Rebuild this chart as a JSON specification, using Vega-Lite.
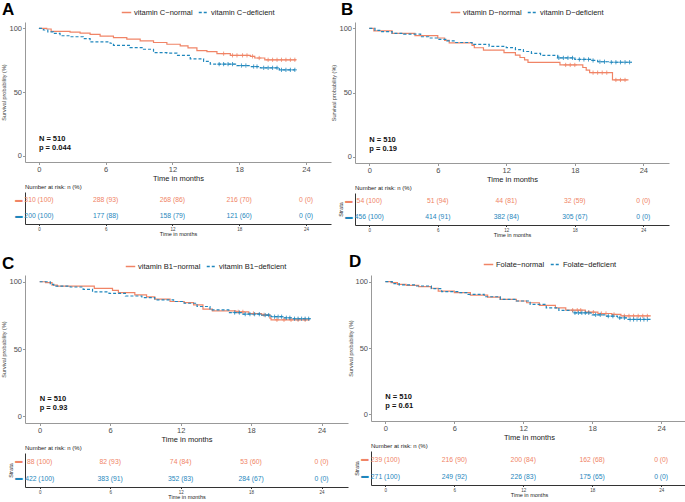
{
  "$schema": "https://vega.github.io/schema/vega-lite/v6.json",
  "padding": {"left": 1, "top": 1, "right": 1, "bottom": 1},
  "config": {
    "font": "Liberation Sans",
    "view": {"stroke": null},
    "axis": {"grid": false},
    "title": {"color": "#000000"}
  },
  "datasets": {
    "A_km": [
      {"g":"normal","t":0,"s":100},{"g":"normal","t":0.7,"s":99.5},{"g":"normal","t":1.1,"s":97.6},{"g":"normal","t":2.8,"s":97.1},{"g":"normal","t":3.7,"s":96.3},{"g":"normal","t":4.6,"s":95.2},{"g":"normal","t":5.5,"s":93.9},{"g":"normal","t":6.7,"s":92.8},{"g":"normal","t":7.9,"s":91.5},{"g":"normal","t":9.1,"s":90.2},{"g":"normal","t":10.3,"s":88.9},{"g":"normal","t":11.5,"s":87.5},{"g":"normal","t":12.7,"s":86.2},{"g":"normal","t":13.4,"s":84.6},{"g":"normal","t":14.2,"s":82.5},{"g":"normal","t":15.1,"s":81.7},{"g":"normal","t":16,"s":80.1},{"g":"normal","t":17.2,"s":78.8},{"g":"normal","t":19,"s":78},{"g":"normal","t":19.4,"s":76.7},{"g":"normal","t":20.3,"s":75.3},{"g":"normal","t":23.1,"s":75.3},
      {"g":"deficient","t":0,"s":100},{"g":"deficient","t":0.4,"s":98.7},{"g":"deficient","t":0.8,"s":97.3},{"g":"deficient","t":1.3,"s":96},{"g":"deficient","t":1.9,"s":94.2},{"g":"deficient","t":2.8,"s":93.4},{"g":"deficient","t":4,"s":92},{"g":"deficient","t":4.6,"s":89.4},{"g":"deficient","t":6.4,"s":88.3},{"g":"deficient","t":6.7,"s":86.7},{"g":"deficient","t":8.2,"s":84.9},{"g":"deficient","t":9.4,"s":83.6},{"g":"deficient","t":10.3,"s":80.9},{"g":"deficient","t":11.5,"s":80.6},{"g":"deficient","t":12.4,"s":78.8},{"g":"deficient","t":13.6,"s":76.1},{"g":"deficient","t":14.8,"s":74},{"g":"deficient","t":15.4,"s":71.9},{"g":"deficient","t":17.8,"s":70.8},{"g":"deficient","t":19,"s":70},{"g":"deficient","t":19.9,"s":69},{"g":"deficient","t":21.6,"s":67.4},{"g":"deficient","t":23,"s":67.4}
    ],
    "A_cens": [
      {"g":"normal","t":16.6,"s":80.1},{"g":"normal","t":17.4,"s":78.8},{"g":"normal","t":17.8,"s":78.8},{"g":"normal","t":18.3,"s":78.8},{"g":"normal","t":18.7,"s":78.8},{"g":"normal","t":19.2,"s":78},{"g":"normal","t":19.8,"s":76.7},{"g":"normal","t":20.6,"s":75.3},{"g":"normal","t":21.0,"s":75.3},{"g":"normal","t":21.4,"s":75.3},{"g":"normal","t":21.8,"s":75.3},{"g":"normal","t":22.2,"s":75.3},{"g":"normal","t":22.6,"s":75.3},{"g":"normal","t":23.0,"s":75.3},
      {"g":"deficient","t":16.2,"s":71.9},{"g":"deficient","t":16.6,"s":71.9},{"g":"deficient","t":17.0,"s":71.9},{"g":"deficient","t":17.4,"s":71.9},{"g":"deficient","t":18.2,"s":70.8},{"g":"deficient","t":18.6,"s":70.8},{"g":"deficient","t":19.3,"s":70},{"g":"deficient","t":19.6,"s":70},{"g":"deficient","t":20.2,"s":69},{"g":"deficient","t":20.6,"s":69},{"g":"deficient","t":21.0,"s":69},{"g":"deficient","t":21.4,"s":69},{"g":"deficient","t":21.8,"s":67.4},{"g":"deficient","t":22.2,"s":67.4},{"g":"deficient","t":22.6,"s":67.4},{"g":"deficient","t":23.0,"s":67.4}
    ],
    "A_ann": [{"t":0,"s":13,"label":"N = 510"},{"t":0,"s":6,"label":"p = 0.044"}],
    "A_risk": [
      {"g":"normal","t":0,"label":"310 (100)"},{"g":"normal","t":6,"label":"288 (93)"},{"g":"normal","t":12,"label":"268 (86)"},{"g":"normal","t":18,"label":"216 (70)"},{"g":"normal","t":24,"label":"0 (0)"},
      {"g":"deficient","t":0,"label":"200 (100)"},{"g":"deficient","t":6,"label":"177 (88)"},{"g":"deficient","t":12,"label":"158 (79)"},{"g":"deficient","t":18,"label":"121 (60)"},{"g":"deficient","t":24,"label":"0 (0)"}
    ],
    "B_km": [
      {"g":"normal","t":0,"s":100},{"g":"normal","t":0.4,"s":98.1},{"g":"normal","t":2.0,"s":96.2},{"g":"normal","t":4.0,"s":94.3},{"g":"normal","t":6.0,"s":92.5},{"g":"normal","t":6.6,"s":90.6},{"g":"normal","t":7.0,"s":88.7},{"g":"normal","t":9.0,"s":86.8},{"g":"normal","t":9.2,"s":84.9},{"g":"normal","t":10.0,"s":83},{"g":"normal","t":11.8,"s":81.1},{"g":"normal","t":12.8,"s":79.2},{"g":"normal","t":13.2,"s":77.3},{"g":"normal","t":13.6,"s":75.4},{"g":"normal","t":13.9,"s":73.5},{"g":"normal","t":16.7,"s":71.5},{"g":"normal","t":18.7,"s":69.5},{"g":"normal","t":19.0,"s":67.5},{"g":"normal","t":19.3,"s":65.5},{"g":"normal","t":21.3,"s":59.8},{"g":"normal","t":22.7,"s":59.8},
      {"g":"deficient","t":0,"s":100},{"g":"deficient","t":0.5,"s":98.5},{"g":"deficient","t":1,"s":97.5},{"g":"deficient","t":2,"s":96.2},{"g":"deficient","t":3,"s":95.5},{"g":"deficient","t":4.5,"s":93.5},{"g":"deficient","t":5.2,"s":92.5},{"g":"deficient","t":6,"s":91.5},{"g":"deficient","t":6.8,"s":90.2},{"g":"deficient","t":7.5,"s":89},{"g":"deficient","t":9,"s":87.5},{"g":"deficient","t":10.5,"s":86},{"g":"deficient","t":12,"s":85},{"g":"deficient","t":12.8,"s":83.5},{"g":"deficient","t":13.5,"s":82},{"g":"deficient","t":14.2,"s":80.5},{"g":"deficient","t":15,"s":79},{"g":"deficient","t":16.5,"s":77},{"g":"deficient","t":18,"s":75.8},{"g":"deficient","t":19.5,"s":75},{"g":"deficient","t":20,"s":74},{"g":"deficient","t":21,"s":73.6},{"g":"deficient","t":23,"s":73.6}
    ],
    "B_cens": [
      {"g":"normal","t":17.2,"s":71.5},{"g":"normal","t":17.6,"s":71.5},{"g":"normal","t":18.0,"s":71.5},{"g":"normal","t":19.6,"s":65.5},{"g":"normal","t":20.0,"s":65.5},{"g":"normal","t":20.4,"s":65.5},{"g":"normal","t":20.8,"s":65.5},{"g":"normal","t":21.6,"s":59.8},{"g":"normal","t":22.0,"s":59.8},{"g":"normal","t":22.4,"s":59.8},
      {"g":"deficient","t":16.6,"s":77},{"g":"deficient","t":17.0,"s":77},{"g":"deficient","t":17.4,"s":77},{"g":"deficient","t":17.8,"s":77},{"g":"deficient","t":18.4,"s":75.8},{"g":"deficient","t":18.8,"s":75.8},{"g":"deficient","t":19.2,"s":75.8},{"g":"deficient","t":19.6,"s":75},{"g":"deficient","t":20.2,"s":74},{"g":"deficient","t":20.6,"s":74},{"g":"deficient","t":21.2,"s":73.6},{"g":"deficient","t":21.6,"s":73.6},{"g":"deficient","t":22.0,"s":73.6},{"g":"deficient","t":22.4,"s":73.6},{"g":"deficient","t":22.8,"s":73.6}
    ],
    "B_ann": [{"t":0,"s":13,"label":"N = 510"},{"t":0,"s":6,"label":"p = 0.19"}],
    "B_risk": [
      {"g":"normal","t":0,"label":"54 (100)"},{"g":"normal","t":6,"label":"51 (94)"},{"g":"normal","t":12,"label":"44 (81)"},{"g":"normal","t":18,"label":"32 (59)"},{"g":"normal","t":24,"label":"0 (0)"},
      {"g":"deficient","t":0,"label":"456 (100)"},{"g":"deficient","t":6,"label":"414 (91)"},{"g":"deficient","t":12,"label":"382 (84)"},{"g":"deficient","t":18,"label":"305 (67)"},{"g":"deficient","t":24,"label":"0 (0)"}
    ],
    "C_km": [
      {"g":"normal","t":0,"s":100},{"g":"normal","t":0.5,"s":99.3},{"g":"normal","t":1.05,"s":97.5},{"g":"normal","t":1.5,"s":96.8},{"g":"normal","t":4.65,"s":95.1},{"g":"normal","t":6.2,"s":93.6},{"g":"normal","t":6.7,"s":91.9},{"g":"normal","t":8.1,"s":90.2},{"g":"normal","t":9.1,"s":88.7},{"g":"normal","t":9.8,"s":87},{"g":"normal","t":11.1,"s":85.3},{"g":"normal","t":12.3,"s":84.5},{"g":"normal","t":13.1,"s":82.8},{"g":"normal","t":13.9,"s":79.6},{"g":"normal","t":14.7,"s":78.4},{"g":"normal","t":16.7,"s":77.6},{"g":"normal","t":17.8,"s":76.4},{"g":"normal","t":18.9,"s":75.4},{"g":"normal","t":19.6,"s":73},{"g":"normal","t":19.7,"s":71.7},{"g":"normal","t":23.0,"s":71.7},
      {"g":"deficient","t":0,"s":100},{"g":"deficient","t":0.9,"s":98},{"g":"deficient","t":1.2,"s":96.8},{"g":"deficient","t":2.6,"s":96.1},{"g":"deficient","t":3.7,"s":94.3},{"g":"deficient","t":4.5,"s":92.4},{"g":"deficient","t":5.9,"s":91.4},{"g":"deficient","t":7.3,"s":89.4},{"g":"deficient","t":8.7,"s":88.2},{"g":"deficient","t":9.8,"s":86.5},{"g":"deficient","t":11.4,"s":85.3},{"g":"deficient","t":12.3,"s":84},{"g":"deficient","t":13.4,"s":81.6},{"g":"deficient","t":14.5,"s":79.1},{"g":"deficient","t":16.1,"s":77.1},{"g":"deficient","t":17.2,"s":75.9},{"g":"deficient","t":18.9,"s":75.2},{"g":"deficient","t":19.7,"s":74},{"g":"deficient","t":20.8,"s":73.2},{"g":"deficient","t":21.5,"s":72.5},{"g":"deficient","t":23.2,"s":72.5}
    ],
    "C_cens": [
      {"g":"normal","t":16.9,"s":77.6},{"g":"normal","t":17.3,"s":77.6},{"g":"normal","t":18.2,"s":76.4},{"g":"normal","t":19.1,"s":75.4},{"g":"normal","t":20.2,"s":71.7},{"g":"normal","t":20.8,"s":71.7},{"g":"normal","t":21.4,"s":71.7},{"g":"normal","t":22.0,"s":71.7},{"g":"normal","t":22.6,"s":71.7},
      {"g":"deficient","t":16.6,"s":77.1},{"g":"deficient","t":17.0,"s":77.1},{"g":"deficient","t":17.5,"s":75.9},{"g":"deficient","t":17.9,"s":75.9},{"g":"deficient","t":18.3,"s":75.9},{"g":"deficient","t":18.7,"s":75.9},{"g":"deficient","t":19.2,"s":75.2},{"g":"deficient","t":19.5,"s":75.2},{"g":"deficient","t":20.0,"s":74},{"g":"deficient","t":20.3,"s":74},{"g":"deficient","t":20.6,"s":74},{"g":"deficient","t":21.0,"s":73.2},{"g":"deficient","t":21.3,"s":73.2},{"g":"deficient","t":21.7,"s":72.5},{"g":"deficient","t":22.0,"s":72.5},{"g":"deficient","t":22.3,"s":72.5},{"g":"deficient","t":22.6,"s":72.5},{"g":"deficient","t":22.9,"s":72.5}
    ],
    "C_ann": [{"t":0,"s":13,"label":"N = 510"},{"t":0,"s":6,"label":"p = 0.93"}],
    "C_risk": [
      {"g":"normal","t":0,"label":"88 (100)"},{"g":"normal","t":6,"label":"82 (93)"},{"g":"normal","t":12,"label":"74 (84)"},{"g":"normal","t":18,"label":"53 (60)"},{"g":"normal","t":24,"label":"0 (0)"},
      {"g":"deficient","t":0,"label":"422 (100)"},{"g":"deficient","t":6,"label":"383 (91)"},{"g":"deficient","t":12,"label":"352 (83)"},{"g":"deficient","t":18,"label":"284 (67)"},{"g":"deficient","t":24,"label":"0 (0)"}
    ],
    "D_km": [
      {"g":"normal","t":0,"s":100},{"g":"normal","t":0.5,"s":99.2},{"g":"normal","t":1.05,"s":98},{"g":"normal","t":1.8,"s":97.2},{"g":"normal","t":2.9,"s":96.2},{"g":"normal","t":4,"s":95},{"g":"normal","t":4.6,"s":92.9},{"g":"normal","t":6,"s":91.7},{"g":"normal","t":7.4,"s":89.9},{"g":"normal","t":8.9,"s":88.4},{"g":"normal","t":10,"s":86.6},{"g":"normal","t":11.4,"s":85.4},{"g":"normal","t":12.3,"s":84.1},{"g":"normal","t":13.4,"s":82.1},{"g":"normal","t":14.8,"s":80.3},{"g":"normal","t":15.7,"s":78.5},{"g":"normal","t":17.4,"s":77},{"g":"normal","t":18.5,"s":76},{"g":"normal","t":19.7,"s":75.3},{"g":"normal","t":20.5,"s":74.2},{"g":"normal","t":23.1,"s":74.2},
      {"g":"deficient","t":0,"s":100},{"g":"deficient","t":0.6,"s":98.5},{"g":"deficient","t":1.2,"s":97.5},{"g":"deficient","t":2.6,"s":96.7},{"g":"deficient","t":4,"s":94.7},{"g":"deficient","t":4.9,"s":92.4},{"g":"deficient","t":6.3,"s":91.7},{"g":"deficient","t":7.2,"s":90.4},{"g":"deficient","t":8.6,"s":88.6},{"g":"deficient","t":10,"s":86.6},{"g":"deficient","t":11.4,"s":85.4},{"g":"deficient","t":12.6,"s":82.8},{"g":"deficient","t":14,"s":80.3},{"g":"deficient","t":15.1,"s":78.3},{"g":"deficient","t":16.3,"s":76.5},{"g":"deficient","t":18,"s":75},{"g":"deficient","t":19.1,"s":74},{"g":"deficient","t":20.2,"s":72.7},{"g":"deficient","t":21.1,"s":71.5},{"g":"deficient","t":23.1,"s":71.5}
    ],
    "D_cens": [
      {"g":"normal","t":16.3,"s":78.5},{"g":"normal","t":16.7,"s":78.5},{"g":"normal","t":17.0,"s":78.5},{"g":"normal","t":17.7,"s":77},{"g":"normal","t":18.1,"s":77},{"g":"normal","t":18.8,"s":76},{"g":"normal","t":19.2,"s":76},{"g":"normal","t":19.9,"s":75.3},{"g":"normal","t":20.8,"s":74.2},{"g":"normal","t":21.2,"s":74.2},{"g":"normal","t":21.6,"s":74.2},{"g":"normal","t":22.0,"s":74.2},{"g":"normal","t":22.4,"s":74.2},{"g":"normal","t":22.8,"s":74.2},
      {"g":"deficient","t":16.5,"s":76.5},{"g":"deficient","t":16.8,"s":76.5},{"g":"deficient","t":17.1,"s":76.5},{"g":"deficient","t":17.4,"s":76.5},{"g":"deficient","t":17.7,"s":76.5},{"g":"deficient","t":18.3,"s":75},{"g":"deficient","t":18.7,"s":75},{"g":"deficient","t":19.4,"s":74},{"g":"deficient","t":19.8,"s":74},{"g":"deficient","t":20.4,"s":72.7},{"g":"deficient","t":20.8,"s":72.7},{"g":"deficient","t":21.3,"s":71.5},{"g":"deficient","t":21.6,"s":71.5},{"g":"deficient","t":21.9,"s":71.5},{"g":"deficient","t":22.2,"s":71.5},{"g":"deficient","t":22.5,"s":71.5},{"g":"deficient","t":22.8,"s":71.5}
    ],
    "D_ann": [{"t":0,"s":13,"label":"N = 510"},{"t":0,"s":6,"label":"p = 0.61"}],
    "D_risk": [
      {"g":"normal","t":0,"label":"239 (100)"},{"g":"normal","t":6,"label":"216 (90)"},{"g":"normal","t":12,"label":"200 (84)"},{"g":"normal","t":18,"label":"162 (68)"},{"g":"normal","t":24,"label":"0 (0)"},
      {"g":"deficient","t":0,"label":"271 (100)"},{"g":"deficient","t":6,"label":"249 (92)"},{"g":"deficient","t":12,"label":"226 (83)"},{"g":"deficient","t":18,"label":"175 (65)"},{"g":"deficient","t":24,"label":"0 (0)"}
    ]
  },
  "resolve": {"scale": {"color": "independent", "strokeDash": "independent", "x": "independent", "y": "independent"}, "legend": {"color": "independent", "strokeDash": "independent"}, "axis": {"x": "independent", "y": "independent"}},
  "spacing": 15,
  "vconcat": [
    {
      "spacing": 0,
      "resolve": {"scale": {"color": "independent", "strokeDash": "independent", "x": "independent", "y": "independent"}, "legend": {"color": "independent", "strokeDash": "independent"}, "axis": {"x": "independent", "y": "independent"}},
      "hconcat": [
        {
          "spacing": 2,
          "resolve": {"scale": {"color": "independent", "strokeDash": "independent", "x": "independent", "y": "independent"}, "legend": {"color": "independent", "strokeDash": "independent"}, "axis": {"x": "independent", "y": "independent"}},
          "vconcat": [
            {
              "title": {"text": "A", "anchor": "start", "frame": "bounds", "fontSize": 17, "fontWeight": "bold", "offset": -12},
              "width": 306, "height": 140,
              "layer": [
                {
                  "data": {"name": "A_km"},
                  "mark": {"type": "line", "interpolate": "step-after", "strokeWidth": 1.2},
                  "encoding": {
                    "x": {"field": "t", "type": "quantitative", "scale": {"domain": [-1.25, 26.25], "nice": false, "zero": false}, "axis": {"values": [0, 6, 12, 18, 24], "title": "Time in months", "labelFontSize": 7.5, "titleFontSize": 7.5, "titleFontWeight": "normal", "titleColor": "#1a1a1a", "labelColor": "#4d4d4d", "labelPadding": 1, "titlePadding": 1, "tickSize": 2.5, "domainColor": "#999", "tickColor": "#999", "labelFlush": false}},
                    "y": {"field": "s", "type": "quantitative", "scale": {"domain": [-5, 105], "nice": false, "zero": false}, "axis": {"values": [0, 25, 50, 75, 100], "title": "Survival probability (%)", "titleFontSize": 5.5, "titleFontWeight": "normal", "titleColor": "#444", "labelFontSize": 7.5, "labelColor": "#4d4d4d", "labelPadding": 1, "titlePadding": 2, "tickSize": 2.5, "domainColor": "#999", "tickColor": "#999"}},
                    "color": {"field": "g", "type": "nominal", "scale": {"domain": ["normal", "deficient"], "range": ["#F08466", "#1F87BD"]}, "legend": {"title": null, "orient": "none", "legendX": 96, "legendY": -15, "direction": "horizontal", "symbolType": "stroke", "symbolSize": 90, "symbolStrokeWidth": 1.3, "labelFontSize": 7.5, "labelColor": "#222", "columnPadding": 3, "labelOffset": 2, "padding": 0, "labelExpr": "datum.value == 'normal' ? 'vitamin C−normal' : 'vitamin C−deficient'"}},
                    "strokeDash": {"field": "g", "type": "nominal", "scale": {"domain": ["normal", "deficient"], "range": [[1, 0], [3, 2]]}, "legend": {"title": null, "orient": "none", "legendX": 96, "legendY": -15, "direction": "horizontal", "symbolType": "stroke", "symbolSize": 90, "labelFontSize": 7.5, "labelExpr": "datum.value == 'normal' ? 'vitamin C−normal' : 'vitamin C−deficient'"}}
                  }
                },
                {
                  "data": {"name": "A_cens"},
                  "mark": {"type": "point", "shape": "M-1,0L1,0M0,-1L0,1", "filled": false, "size": 18, "strokeWidth": 0.8, "opacity": 1},
                  "encoding": {
                    "x": {"field": "t", "type": "quantitative"},
                    "y": {"field": "s", "type": "quantitative"},
                    "color": {"field": "g", "type": "nominal", "legend": null}
                  }
                },
                {
                  "data": {"name": "A_ann"},
                  "mark": {"type": "text", "align": "left", "baseline": "middle", "fontWeight": "bold", "fontSize": 7.5, "color": "#111"},
                  "encoding": {
                    "x": {"field": "t", "type": "quantitative"},
                    "y": {"field": "s", "type": "quantitative"},
                    "text": {"field": "label"}
                  }
                }
              ]
            },
            {
              "title": {"text": "Number at risk: n (%)", "anchor": "start", "frame": "group", "fontSize": 6, "fontWeight": "normal", "color": "#222", "offset": 2},
              "width": 306, "height": 32,
              "data": {"name": "A_risk"},
              "mark": {"type": "text", "fontSize": 6.8, "baseline": "middle"},
              "encoding": {
                "x": {"field": "t", "type": "quantitative", "scale": {"domain": [-1.25, 26.25], "nice": false, "zero": false}, "axis": {"values": [0, 6, 12, 18, 24], "title": "Time in months", "labelFontSize": 4.5, "titleFontSize": 5.5, "titleFontWeight": "normal", "titleColor": "#222", "labelColor": "#444", "labelPadding": 1, "titlePadding": 0, "tickSize": 1.5, "domainColor": "#333", "tickColor": "#333", "labelFlush": false}},
                "y": {"field": "g", "type": "nominal", "scale": {"domain": ["normal", "deficient"]}, "axis": {"title": null, "labelExpr": "'━'", "labelFont": "DejaVu Sans", "labelFontSize": 12, "labelColor": {"condition": {"test": "datum.value == 'normal'", "value": "#F08466"}, "value": "#1F87BD"}, "ticks": false, "labelPadding": 3, "domainColor": "#333"}},
                "text": {"field": "label"},
                "color": {"field": "g", "type": "nominal", "scale": {"domain": ["normal", "deficient"], "range": ["#F08466", "#1F87BD"]}, "legend": null}
              }
            }
          ]
        },
        {
          "spacing": 2,
          "resolve": {"scale": {"color": "independent", "strokeDash": "independent", "x": "independent", "y": "independent"}, "legend": {"color": "independent", "strokeDash": "independent"}, "axis": {"x": "independent", "y": "independent"}},
          "vconcat": [
            {
              "title": {"text": "B", "anchor": "start", "frame": "bounds", "fontSize": 17, "fontWeight": "bold", "offset": -12, "dx": 9},
              "width": 314, "height": 141,
              "layer": [
                {
                  "data": {"name": "B_km"},
                  "mark": {"type": "line", "interpolate": "step-after", "strokeWidth": 1.2},
                  "encoding": {
                    "x": {"field": "t", "type": "quantitative", "scale": {"domain": [-1.25, 26.25], "nice": false, "zero": false}, "axis": {"values": [0, 6, 12, 18, 24], "title": "Time in months", "labelFontSize": 7.5, "titleFontSize": 7.5, "titleFontWeight": "normal", "titleColor": "#1a1a1a", "labelColor": "#4d4d4d", "labelPadding": 1, "titlePadding": 1, "tickSize": 2.5, "domainColor": "#999", "tickColor": "#999", "labelFlush": false}},
                    "y": {"field": "s", "type": "quantitative", "scale": {"domain": [-5, 105], "nice": false, "zero": false}, "axis": {"values": [0, 25, 50, 75, 100], "title": "Survival probability (%)", "titleFontSize": 5.5, "titleFontWeight": "normal", "titleColor": "#444", "labelFontSize": 7.5, "labelColor": "#4d4d4d", "labelPadding": 1, "titlePadding": 2, "tickSize": 2.5, "domainColor": "#999", "tickColor": "#999"}},
                    "color": {"field": "g", "type": "nominal", "scale": {"domain": ["normal", "deficient"], "range": ["#F08466", "#1F87BD"]}, "legend": {"title": null, "orient": "none", "legendX": 95, "legendY": -15, "direction": "horizontal", "symbolType": "stroke", "symbolSize": 90, "symbolStrokeWidth": 1.3, "labelFontSize": 7.5, "labelColor": "#222", "columnPadding": 3, "labelOffset": 2, "padding": 0, "labelExpr": "datum.value == 'normal' ? 'vitamin D−normal' : 'vitamin D−deficient'"}},
                    "strokeDash": {"field": "g", "type": "nominal", "scale": {"domain": ["normal", "deficient"], "range": [[1, 0], [3, 2]]}, "legend": {"title": null, "orient": "none", "legendX": 95, "legendY": -15, "direction": "horizontal", "symbolType": "stroke", "symbolSize": 90, "labelFontSize": 7.5, "labelExpr": "datum.value == 'normal' ? 'vitamin D−normal' : 'vitamin D−deficient'"}}
                  }
                },
                {
                  "data": {"name": "B_cens"},
                  "mark": {"type": "point", "shape": "M-1,0L1,0M0,-1L0,1", "filled": false, "size": 18, "strokeWidth": 0.8, "opacity": 1},
                  "encoding": {
                    "x": {"field": "t", "type": "quantitative"},
                    "y": {"field": "s", "type": "quantitative"},
                    "color": {"field": "g", "type": "nominal", "legend": null}
                  }
                },
                {
                  "data": {"name": "B_ann"},
                  "mark": {"type": "text", "align": "left", "baseline": "middle", "fontWeight": "bold", "fontSize": 7.5, "color": "#111"},
                  "encoding": {
                    "x": {"field": "t", "type": "quantitative"},
                    "y": {"field": "s", "type": "quantitative"},
                    "text": {"field": "label"}
                  }
                }
              ]
            },
            {
              "title": {"text": "Number at risk: n (%)", "anchor": "start", "frame": "group", "fontSize": 6, "fontWeight": "normal", "color": "#222", "offset": 2},
              "width": 314, "height": 32,
              "data": {"name": "B_risk"},
              "mark": {"type": "text", "fontSize": 6.8, "baseline": "middle"},
              "encoding": {
                "x": {"field": "t", "type": "quantitative", "scale": {"domain": [-1.25, 26.25], "nice": false, "zero": false}, "axis": {"values": [0, 6, 12, 18, 24], "title": "Time in months", "labelFontSize": 4.5, "titleFontSize": 5.5, "titleFontWeight": "normal", "titleColor": "#222", "labelColor": "#444", "labelPadding": 1, "titlePadding": 0, "tickSize": 1.5, "domainColor": "#333", "tickColor": "#333", "labelFlush": false}},
                "y": {"field": "g", "type": "nominal", "scale": {"domain": ["normal", "deficient"]}, "axis": {"title": "Strata", "titleFontSize": 5.5, "titleFontWeight": "normal", "titleColor": "#222", "titlePadding": 1, "labelExpr": "'━'", "labelFont": "DejaVu Sans", "labelFontSize": 12, "labelColor": {"condition": {"test": "datum.value == 'normal'", "value": "#F08466"}, "value": "#1F87BD"}, "ticks": false, "labelPadding": 3, "domainColor": "#333"}},
                "text": {"field": "label"},
                "color": {"field": "g", "type": "nominal", "scale": {"domain": ["normal", "deficient"], "range": ["#F08466", "#1F87BD"]}, "legend": null}
              }
            }
          ]
        }
      ]
    },
    {
      "spacing": 0,
      "resolve": {"scale": {"color": "independent", "strokeDash": "independent", "x": "independent", "y": "independent"}, "legend": {"color": "independent", "strokeDash": "independent"}, "axis": {"x": "independent", "y": "independent"}},
      "hconcat": [
        {
          "spacing": 2,
          "resolve": {"scale": {"color": "independent", "strokeDash": "independent", "x": "independent", "y": "independent"}, "legend": {"color": "independent", "strokeDash": "independent"}, "axis": {"x": "independent", "y": "independent"}},
          "vconcat": [
            {
              "title": {"text": "C", "anchor": "start", "frame": "bounds", "fontSize": 17, "fontWeight": "bold", "offset": -12},
              "width": 323, "height": 148,
              "layer": [
                {
                  "data": {"name": "C_km"},
                  "mark": {"type": "line", "interpolate": "step-after", "strokeWidth": 1.2},
                  "encoding": {
                    "x": {"field": "t", "type": "quantitative", "scale": {"domain": [-1.25, 26.25], "nice": false, "zero": false}, "axis": {"values": [0, 6, 12, 18, 24], "title": "Time in months", "labelFontSize": 7.5, "titleFontSize": 7.5, "titleFontWeight": "normal", "titleColor": "#1a1a1a", "labelColor": "#4d4d4d", "labelPadding": 1, "titlePadding": 1, "tickSize": 2.5, "domainColor": "#999", "tickColor": "#999", "labelFlush": false}},
                    "y": {"field": "s", "type": "quantitative", "scale": {"domain": [-5, 105], "nice": false, "zero": false}, "axis": {"values": [0, 25, 50, 75, 100], "title": "Survival probability (%)", "titleFontSize": 5.5, "titleFontWeight": "normal", "titleColor": "#444", "labelFontSize": 7.5, "labelColor": "#4d4d4d", "labelPadding": 1, "titlePadding": 2, "tickSize": 2.5, "domainColor": "#999", "tickColor": "#999"}},
                    "color": {"field": "g", "type": "nominal", "scale": {"domain": ["normal", "deficient"], "range": ["#F08466", "#1F87BD"]}, "legend": {"title": null, "orient": "none", "legendX": 100, "legendY": -14, "direction": "horizontal", "symbolType": "stroke", "symbolSize": 90, "symbolStrokeWidth": 1.3, "labelFontSize": 7.5, "labelColor": "#222", "columnPadding": 3, "labelOffset": 2, "padding": 0, "labelExpr": "datum.value == 'normal' ? 'vitamin B1−normal' : 'vitamin B1−deficient'"}},
                    "strokeDash": {"field": "g", "type": "nominal", "scale": {"domain": ["normal", "deficient"], "range": [[1, 0], [3, 2]]}, "legend": {"title": null, "orient": "none", "legendX": 100, "legendY": -14, "direction": "horizontal", "symbolType": "stroke", "symbolSize": 90, "labelFontSize": 7.5, "labelExpr": "datum.value == 'normal' ? 'vitamin B1−normal' : 'vitamin B1−deficient'"}}
                  }
                },
                {
                  "data": {"name": "C_cens"},
                  "mark": {"type": "point", "shape": "M-1,0L1,0M0,-1L0,1", "filled": false, "size": 18, "strokeWidth": 0.8, "opacity": 1},
                  "encoding": {
                    "x": {"field": "t", "type": "quantitative"},
                    "y": {"field": "s", "type": "quantitative"},
                    "color": {"field": "g", "type": "nominal", "legend": null}
                  }
                },
                {
                  "data": {"name": "C_ann"},
                  "mark": {"type": "text", "align": "left", "baseline": "middle", "fontWeight": "bold", "fontSize": 7.5, "color": "#111"},
                  "encoding": {
                    "x": {"field": "t", "type": "quantitative"},
                    "y": {"field": "s", "type": "quantitative"},
                    "text": {"field": "label"}
                  }
                }
              ]
            },
            {
              "title": {"text": "Number at risk: n (%)", "anchor": "start", "frame": "group", "fontSize": 6, "fontWeight": "normal", "color": "#222", "offset": 2},
              "width": 323, "height": 34,
              "data": {"name": "C_risk"},
              "mark": {"type": "text", "fontSize": 6.8, "baseline": "middle"},
              "encoding": {
                "x": {"field": "t", "type": "quantitative", "scale": {"domain": [-1.25, 26.25], "nice": false, "zero": false}, "axis": {"values": [0, 6, 12, 18, 24], "title": "Time in months", "labelFontSize": 4.5, "titleFontSize": 5.5, "titleFontWeight": "normal", "titleColor": "#222", "labelColor": "#444", "labelPadding": 1, "titlePadding": 0, "tickSize": 1.5, "domainColor": "#333", "tickColor": "#333", "labelFlush": false}},
                "y": {"field": "g", "type": "nominal", "scale": {"domain": ["normal", "deficient"]}, "axis": {"title": "Strata", "titleFontSize": 5.5, "titleFontWeight": "normal", "titleColor": "#222", "titlePadding": 1, "labelExpr": "'━'", "labelFont": "DejaVu Sans", "labelFontSize": 12, "labelColor": {"condition": {"test": "datum.value == 'normal'", "value": "#F08466"}, "value": "#1F87BD"}, "ticks": false, "labelPadding": 3, "domainColor": "#333"}},
                "text": {"field": "label"},
                "color": {"field": "g", "type": "nominal", "scale": {"domain": ["normal", "deficient"], "range": ["#F08466", "#1F87BD"]}, "legend": null}
              }
            }
          ]
        },
        {
          "spacing": 2,
          "resolve": {"scale": {"color": "independent", "strokeDash": "independent", "x": "independent", "y": "independent"}, "legend": {"color": "independent", "strokeDash": "independent"}, "axis": {"x": "independent", "y": "independent"}},
          "vconcat": [
            {
              "title": {"text": "D", "anchor": "start", "frame": "bounds", "fontSize": 17, "fontWeight": "bold", "offset": -12},
              "width": 316, "height": 146,
              "layer": [
                {
                  "data": {"name": "D_km"},
                  "mark": {"type": "line", "interpolate": "step-after", "strokeWidth": 1.2},
                  "encoding": {
                    "x": {"field": "t", "type": "quantitative", "scale": {"domain": [-1.25, 26.25], "nice": false, "zero": false}, "axis": {"values": [0, 6, 12, 18, 24], "title": "Time in months", "labelFontSize": 7.5, "titleFontSize": 7.5, "titleFontWeight": "normal", "titleColor": "#1a1a1a", "labelColor": "#4d4d4d", "labelPadding": 1, "titlePadding": 1, "tickSize": 2.5, "domainColor": "#999", "tickColor": "#999", "labelFlush": false}},
                    "y": {"field": "s", "type": "quantitative", "scale": {"domain": [-5, 105], "nice": false, "zero": false}, "axis": {"values": [0, 25, 50, 75, 100], "title": "Survival probability (%)", "titleFontSize": 5.5, "titleFontWeight": "normal", "titleColor": "#444", "labelFontSize": 7.5, "labelColor": "#4d4d4d", "labelPadding": 1, "titlePadding": 1, "tickSize": 2.5, "domainColor": "#999", "tickColor": "#999"}},
                    "color": {"field": "g", "type": "nominal", "scale": {"domain": ["normal", "deficient"], "range": ["#F08466", "#1F87BD"]}, "legend": {"title": null, "orient": "none", "legendX": 112, "legendY": -16, "direction": "horizontal", "symbolType": "stroke", "symbolSize": 90, "symbolStrokeWidth": 1.3, "labelFontSize": 7.5, "labelColor": "#222", "columnPadding": 3, "labelOffset": 2, "padding": 0, "labelExpr": "datum.value == 'normal' ? 'Folate−normal' : 'Folate−deficient'"}},
                    "strokeDash": {"field": "g", "type": "nominal", "scale": {"domain": ["normal", "deficient"], "range": [[1, 0], [3, 2]]}, "legend": {"title": null, "orient": "none", "legendX": 112, "legendY": -16, "direction": "horizontal", "symbolType": "stroke", "symbolSize": 90, "labelFontSize": 7.5, "labelExpr": "datum.value == 'normal' ? 'Folate−normal' : 'Folate−deficient'"}}
                  }
                },
                {
                  "data": {"name": "D_cens"},
                  "mark": {"type": "point", "shape": "M-1,0L1,0M0,-1L0,1", "filled": false, "size": 18, "strokeWidth": 0.8, "opacity": 1},
                  "encoding": {
                    "x": {"field": "t", "type": "quantitative"},
                    "y": {"field": "s", "type": "quantitative"},
                    "color": {"field": "g", "type": "nominal", "legend": null}
                  }
                },
                {
                  "data": {"name": "D_ann"},
                  "mark": {"type": "text", "align": "left", "baseline": "middle", "fontWeight": "bold", "fontSize": 7.5, "color": "#111"},
                  "encoding": {
                    "x": {"field": "t", "type": "quantitative"},
                    "y": {"field": "s", "type": "quantitative"},
                    "text": {"field": "label"}
                  }
                }
              ]
            },
            {
              "title": {"text": "Number at risk: n (%)", "anchor": "start", "frame": "group", "fontSize": 6, "fontWeight": "normal", "color": "#222", "offset": 2},
              "width": 316, "height": 34,
              "data": {"name": "D_risk"},
              "mark": {"type": "text", "fontSize": 6.8, "baseline": "middle"},
              "encoding": {
                "x": {"field": "t", "type": "quantitative", "scale": {"domain": [-1.25, 26.25], "nice": false, "zero": false}, "axis": {"values": [0, 6, 12, 18, 24], "title": "Time in months", "labelFontSize": 4.5, "titleFontSize": 5.5, "titleFontWeight": "normal", "titleColor": "#222", "labelColor": "#444", "labelPadding": 1, "titlePadding": 0, "tickSize": 1.5, "domainColor": "#333", "tickColor": "#333", "labelFlush": false}},
                "y": {"field": "g", "type": "nominal", "scale": {"domain": ["normal", "deficient"]}, "axis": {"title": "Strata", "titleFontSize": 5.5, "titleFontWeight": "normal", "titleColor": "#222", "titlePadding": 1, "labelExpr": "'━'", "labelFont": "DejaVu Sans", "labelFontSize": 12, "labelColor": {"condition": {"test": "datum.value == 'normal'", "value": "#F08466"}, "value": "#1F87BD"}, "ticks": false, "labelPadding": 3, "domainColor": "#333"}},
                "text": {"field": "label"},
                "color": {"field": "g", "type": "nominal", "scale": {"domain": ["normal", "deficient"], "range": ["#F08466", "#1F87BD"]}, "legend": null}
              }
            }
          ]
        }
      ]
    }
  ]
}
